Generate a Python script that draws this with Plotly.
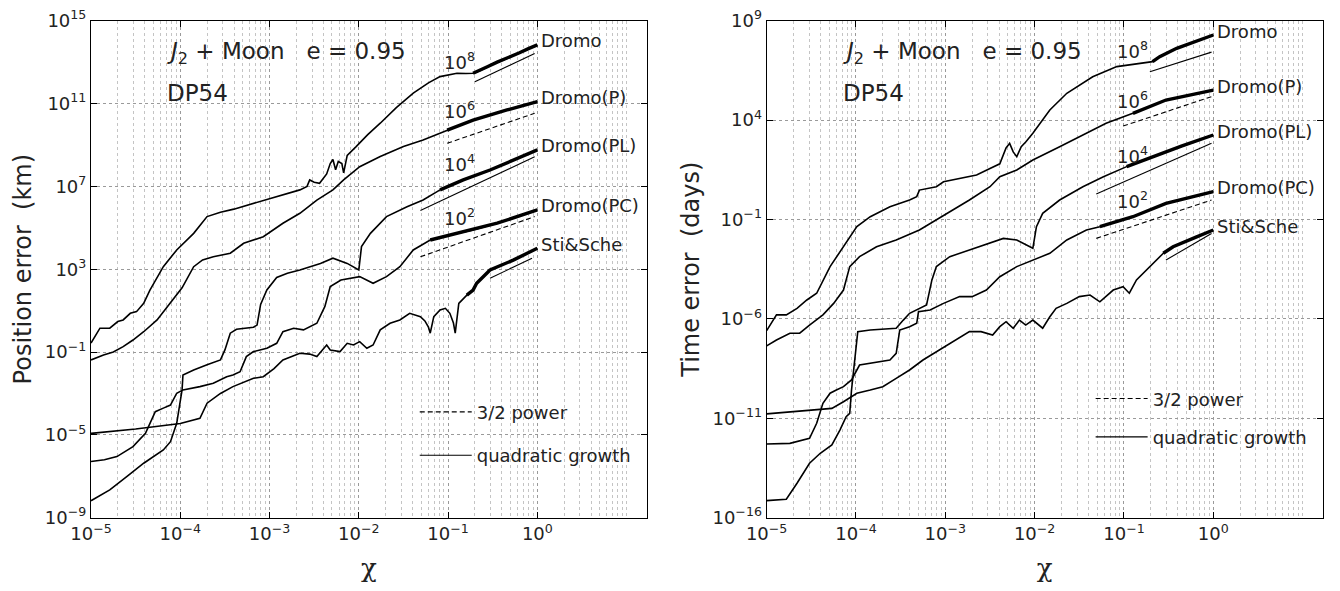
import numpy as np
import plotly.graph_objects as go

# ---------------- data: log10(chi), log10(error) ----------------
# Left panel: position error (km)
pos_dromo_lx = [-5, -4.9, -4.79, -4.70, -4.64, -4.56, -4.49, -4.41, -4.34, -4.19, -4.04, -3.85, -3.70, -3.55, -3.40,
                -3.18, -2.92, -2.66, -2.58, -2.55, -2.50, -2.44, -2.36, -2.32, -2.29, -2.26, -2.23, -2.19, -2.17, -2.13,
                -2.03, -1.90, -1.76, -1.58, -1.39, -1.22, -1.09, -0.98, -0.90, -0.80, -0.72, -0.64, -0.56, -0.45, -0.34,
                -0.20, -0.10, 0]
pos_dromo_ly = [-0.57, 0.15, 0.15, 0.47, 0.55, 0.87, 0.95, 1.35, 1.99, 3.12, 3.93, 4.73, 5.54, 5.75, 5.90,
                6.18, 6.50, 6.83, 7.00, 7.31, 7.20, 7.15, 7.60, 8.10, 8.30, 7.80, 8.20, 8.10, 7.65, 8.50,
                8.92, 9.50, 10.05, 10.80, 11.50, 12.00, 12.30, 12.40, 12.46, 12.45, 12.46, 12.60, 12.78, 13.00, 13.18,
                13.45, 13.65, 13.83]

pos_p_lx = [-5, -4.86, -4.75, -4.64, -4.53, -4.41, -4.26, -4.11, -3.98, -3.85, -3.75, -3.63, -3.44, -3.29, -3.07,
            -2.85, -2.66, -2.47, -2.29, -2.17, -1.99, -1.76, -1.50, -1.28, -1.01, -0.72, -0.34, 0]
pos_p_ly = [-1.38, -1.14, -1.00, -0.74, -0.42, -0.02, 0.55, 1.35, 2.10, 3.12, 3.45, 3.60, 3.77, 4.25, 4.57,
            5.22, 5.70, 6.34, 6.83, 7.31, 7.95, 8.44, 8.92, 9.24, 9.72, 10.20, 10.69, 11.09]

pos_pl_lx = [-5, -4.79, -4.60, -4.41, -4.19, -4.11, -4.04, -3.98, -3.97, -3.85, -3.70, -3.55, -3.50, -3.44, -3.37,
             -3.18, -3.14, -3.10, -3.03, -2.92, -2.80, -2.66, -2.43, -2.29, -2.13, -2.00, -1.97, -1.87, -1.69, -1.46,
             -1.28, -1.09, -0.83, -0.53, -0.25, 0]
pos_pl_ly = [-8.18, -7.66, -7.02, -6.37, -5.73, -5.33, -4.44, -2.83, -2.11, -1.87, -1.62, -1.38, -0.90, -0.09, 0.10,
             0.20, 0.30, 1.30, 2.00, 2.60, 2.80, 2.96, 3.28, 3.53, 3.28, 2.96, 4.09, 4.73, 5.54, 6.02,
             6.34, 6.83, 7.31, 7.79, 8.30, 8.76]

pos_pc_lx = [-5, -4.85, -4.71, -4.53, -4.39, -4.28, -4.19, -4.11, -4.04, -3.97, -3.78, -3.63, -3.48, -3.41, -3.33,
             -3.26, -3.18, -3.03, -2.92, -2.85, -2.73, -2.62, -2.47, -2.38, -2.32, -2.20, -1.99, -1.84, -1.69, -1.54,
             -1.39, -1.20, -0.90, -0.72, -0.45, 0]
pos_pc_ly = [-6.29, -6.20, -6.05, -5.57, -4.93, -3.88, -3.71, -3.56, -2.99, -2.83, -2.67, -2.51, -2.19, -2.11, -1.95,
             -1.22, -0.98, -0.82, -0.58, -0.02, 0.15, 0.07, 0.39, 1.20, 2.16, 2.48, 2.64, 2.32, 2.64, 3.12,
             3.93, 4.41, 4.73, 4.89, 5.22, 5.86]

pos_ss_lx = [-5, -4.5, -4.0, -3.78, -3.70, -3.55, -3.41, -3.18, -3.07, -2.95, -2.85, -2.66, -2.55, -2.47, -2.36,
             -2.32, -2.21, -2.13, -2.06, -1.99, -1.91, -1.84, -1.76, -1.65, -1.54, -1.43, -1.31, -1.26, -1.22, -1.20,
             -1.16, -1.09, -1.03, -0.98, -0.94, -0.92, -0.88, -0.79, -0.72, -0.68, -0.53, -0.27, 0]
pos_ss_ly = [-4.93, -4.72, -4.45, -4.20, -3.47, -3.00, -2.67, -2.27, -2.19, -1.80, -1.38, -1.06, -1.10, -1.22, -0.66,
             -0.90, -0.98, -0.58, -0.66, -0.50, -0.82, -0.66, 0.07, 0.39, 0.55, 0.87, 0.71, 0.50, 0.20, -0.09,
             0.71, 1.03, 1.11, 0.87, 0.40, -0.09, 1.35, 1.75, 1.99, 2.32, 2.96, 3.44, 4.01]

# reference slopes (left panel): start/end in log10
pos_guide_dromo = ([-0.70, -0.03], [12.05, 13.42])   # quadratic
pos_guide_p = ([-1.01, -0.03], [9.08, 10.53])        # 3/2 power
pos_guide_pl = ([-1.31, -0.03], [5.83, 8.43])        # quadratic
pos_guide_pc = ([-1.31, -0.03], [3.60, 5.54])        # 3/2 power
pos_guide_ss = ([-0.53, -0.06], [2.56, 3.53])        # quadratic

# Right panel: time error (days)
tim_dromo_lx = [-5, -4.89, -4.78, -4.66, -4.55, -4.44, -4.29, -4.14, -3.99, -3.84, -3.62, -3.40, -3.32, -3.29, -3.10,
                -3.02, -2.84, -2.65, -2.50, -2.39, -2.32, -2.28, -2.24, -2.20, -2.15, -2.10, -2.02, -1.83, -1.64, -1.35,
                -1.08, -0.79, -0.68, -0.60, -0.41, -0.20, 0]
tim_dromo_ly = [-6.59, -5.80, -5.80, -5.47, -5.05, -4.71, -3.37, -2.37, -1.36, -0.86, -0.36, -0.02, 0.15, 0.48, 0.65,
                0.90, 1.07, 1.24, 1.57, 1.80, 2.60, 2.83, 2.40, 2.16, 2.66, 2.90, 3.34, 4.51, 5.35, 6.18,
                6.69, 6.86, 6.94, 7.19, 7.61, 7.95, 8.28]

tim_p_lx = [-5, -4.89, -4.74, -4.63, -4.52, -4.37, -4.25, -4.14, -4.07, -3.96, -3.77, -3.55, -3.29, -3.10, -2.91,
            -2.73, -2.50, -2.39, -2.20, -2.02, -1.72, -1.42, -1.20, -0.90, -0.53, 0]
tim_p_ly = [-7.36, -7.06, -6.72, -6.72, -6.31, -5.80, -5.22, -4.55, -3.37, -2.87, -2.37, -2.03, -1.53, -1.03, -0.52,
            -0.02, 0.65, 1.15, 1.49, 1.99, 2.66, 3.34, 3.84, 4.34, 5.01, 5.51]

tim_pl_lx = [-5, -4.78, -4.66, -4.52, -4.40, -4.27, -4.18, -4.11, -4.07, -4.05, -4.01, -3.98, -3.84, -3.55, -3.47,
             -3.40, -3.21, -3.17, -3.15, -3.10, -2.95, -2.73, -2.50, -2.35, -2.20, -2.02, -1.98, -1.91, -1.72, -1.46,
             -1.23, -0.97, -0.68, -0.35, 0]
tim_pl_ly = [-15.14, -15.07, -14.27, -13.26, -12.76, -12.34, -11.59, -10.92, -10.75, -9.58, -7.90, -6.64, -6.56, -6.47,
             -6.06, -5.72, -5.30, -4.55, -4.04, -3.37, -2.87, -2.53, -2.20, -1.95, -2.03, -2.45, -1.36, -0.69, -0.02,
             0.65, 1.15, 1.66, 2.16, 2.70, 3.25]

tim_pc_lx = [-5, -4.74, -4.52, -4.44, -4.37, -4.29, -4.22, -4.14, -4.05, -4.01, -3.96, -3.62, -3.55, -3.51, -3.40,
             -3.32, -3.30, -3.17, -3.02, -2.84, -2.70, -2.54, -2.39, -2.20, -2.02, -1.83, -1.64, -1.42, -1.27, -0.90,
             -0.53, 0]
tim_pc_ly = [-12.29, -12.26, -12.01, -11.25, -10.25, -9.74, -9.58, -9.41, -9.07, -8.74, -8.32, -8.07, -7.73, -6.56,
             -6.39, -6.22, -5.64, -5.55, -5.22, -4.88, -4.88, -4.55, -3.88, -3.37, -3.04, -2.70, -2.03, -1.53, -1.36,
             -0.86, -0.19, 0.40]

tim_ss_lx = [-5, -4.59, -4.27, -4.14, -3.99, -3.84, -3.70, -3.55, -3.40, -3.25, -3.10, -2.91, -2.73, -2.60, -2.47,
             -2.39, -2.32, -2.24, -2.17, -2.10, -2.02, -1.91, -1.83, -1.76, -1.64, -1.50, -1.38, -1.27, -1.20, -1.12,
             -1.01, -0.94, -0.86, -0.71, -0.56, -0.45, -0.20, 0]
tim_ss_ly = [-10.78, -10.62, -10.50, -10.17, -9.74, -9.58, -9.41, -8.99, -8.57, -8.07, -7.65, -7.15, -6.64, -6.64,
             -6.81, -6.39, -6.14, -6.47, -6.06, -6.31, -6.06, -6.47, -5.89, -5.47, -5.22, -4.88, -4.80, -5.14, -4.88,
             -4.55, -4.38, -4.71, -4.04, -3.37, -2.70, -2.37, -1.90, -1.53]

tim_guide_dromo = ([-0.71, -0.02], [6.43, 7.42])
tim_guide_p = ([-1.01, -0.02], [3.70, 5.18])
tim_guide_pl = ([-1.31, -0.02], [0.28, 2.83])
tim_guide_pc = ([-1.31, -0.02], [-1.95, -0.02])
tim_guide_ss = ([-0.53, -0.02], [-3.04, -1.70])

series_names = ["Dromo", "Dromo(P)", "Dromo(PL)", "Dromo(PC)", "Sti&Sche"]
scale_labels = ["10<sup>8</sup>", "10<sup>6</sup>", "10<sup>4</sup>", "10<sup>2</sup>"]
pos_scale_pos = [(-0.87, 13.05), (-0.87, 10.69), (-0.87, 8.13), (-0.87, 5.54)]
tim_scale_pos = [(-0.90, 7.53), (-0.90, 5.01), (-0.90, 2.25), (-0.90, -0.02)]

x_tick_exp = [-5, -4, -3, -2, -1, 0]
pos_y_tick_exp = [-9, -5, -1, 3, 7, 11, 15]
tim_y_tick_exp = [-16, -11, -6, -1, 4, 9]

# ---------------- figure ----------------
FONT = "DejaVu Sans"
W, H = 1324, 575          # page body has an 8px margin inside the 1340x591 window
fig = go.Figure()


def sup(e):
    return "10<sup>" + str(e).replace("-", "\u2212") + "</sup>"


def add_curve(lx, ly, xa, ya, thick_from):
    lx = np.array(lx, dtype=float)
    ly = np.array(ly, dtype=float)
    x, y = 10 ** lx, 10 ** ly
    fig.add_trace(go.Scatter(x=x, y=y, mode="lines", line=dict(color="black", width=1.6),
                             xaxis=xa, yaxis=ya, showlegend=False, hoverinfo="skip"))
    m = lx >= thick_from
    fig.add_trace(go.Scatter(x=x[m], y=y[m], mode="lines", line=dict(color="black", width=3.4),
                             xaxis=xa, yaxis=ya, showlegend=False, hoverinfo="skip"))


def add_guide(g, xa, ya, dashed, name=None, legend=None, group=None):
    lx, ly = g
    fig.add_trace(go.Scatter(x=10 ** np.array(lx), y=10 ** np.array(ly), mode="lines",
                             line=dict(color="black", width=1.1, dash="5px,3px" if dashed else "solid"),
                             xaxis=xa, yaxis=ya, hoverinfo="skip",
                             showlegend=name is not None, name=name or "",
                             legend=legend or "legend", legendgroup=group))


panels = [
    dict(xa="x", ya="y", legend="legend",
         curves=[(pos_dromo_lx, pos_dromo_ly, -0.72), (pos_p_lx, pos_p_ly, -1.25), (pos_pl_lx, pos_pl_ly, -1.1),
                 (pos_pc_lx, pos_pc_ly, -1.2), (pos_ss_lx, pos_ss_ly, -0.8)],
         guides=[pos_guide_dromo, pos_guide_p, pos_guide_pl, pos_guide_pc, pos_guide_ss],
         scale_pos=pos_scale_pos),
    dict(xa="x2", ya="y2", legend="legend2",
         curves=[(tim_dromo_lx, tim_dromo_ly, -0.7), (tim_p_lx, tim_p_ly, -1.0), (tim_pl_lx, tim_pl_ly, -1.0),
                 (tim_pc_lx, tim_pc_ly, -1.3), (tim_ss_lx, tim_ss_ly, -0.56)],
         guides=[tim_guide_dromo, tim_guide_p, tim_guide_pl, tim_guide_pc, tim_guide_ss],
         scale_pos=tim_scale_pos),
]

dashed_flags = [False, True, False, True, False]
annotations = []
for p in panels:
    xa, ya = p["xa"], p["ya"]
    # legend entries first (dashed then solid)
    add_guide(p["guides"][1], xa, ya, True, "3/2 power", p["legend"], "a")
    add_guide(p["guides"][0], xa, ya, False, "quadratic growth", p["legend"], "b")
    for i in (2, 3, 4):
        add_guide(p["guides"][i], xa, ya, dashed_flags[i])
    for (lx, ly, th) in p["curves"]:
        add_curve(lx, ly, xa, ya, th)
    # series labels at curve ends
    for name, (lx, ly, th) in zip(series_names, p["curves"]):
        annotations.append(dict(x=lx[-1], y=ly[-1], xref=xa, yref=ya, text=name, showarrow=False,
                                xanchor="left", yanchor="middle", xshift=2, yshift=4,
                                font=dict(family=FONT, size=18, color="#222")))
    for lab, (sx, sy) in zip(scale_labels, p["scale_pos"]):
        annotations.append(dict(x=sx, y=sy, xref=xa, yref=ya, text=lab, showarrow=False,
                                xanchor="center", yanchor="middle",
                                font=dict(family=FONT, size=18, color="#222")))
    annotations.append(dict(x=0.133, y=0.935, xref=xa + " domain", yref=ya + " domain",
                            text="<i>J</i><sub>2</sub> + Moon\u00a0\u00a0\u00a0e = 0.95", showarrow=False,
                            xanchor="left", yanchor="middle", font=dict(family=FONT, size=23, color="#222")))
    annotations.append(dict(x=0.133, y=0.854, xref=xa + " domain", yref=ya + " domain",
                            text="DP54", showarrow=False,
                            xanchor="left", yanchor="middle", font=dict(family=FONT, size=23, color="#222")))


def xaxis(domain, anchor):
    return dict(type="log", range=[-5, 1.225], domain=domain, anchor=anchor, automargin=False,
                tickvals=[10.0 ** e for e in x_tick_exp], ticktext=[sup(e) for e in x_tick_exp],
                ticks="inside", ticklen=6, tickwidth=1, tickcolor="black", ticklabeloverflow="allow",
                showline=True, linecolor="black", linewidth=1.2, mirror="allticks",
                showgrid=True, gridcolor="#9a9a9a", griddash="dot", gridwidth=1, zeroline=False,
                minor=dict(dtick="D1", showgrid=True, gridcolor="#c4c4c4", griddash="dot", gridwidth=1, ticks=""),
                tickfont=dict(family=FONT, size=18, color="#222"),
                title=dict(text="\u03c7", font=dict(family="DejaVu Serif", size=26, color="#222"), standoff=17))


def yaxis(domain, anchor, rng, exps, title):
    return dict(type="log", range=rng, domain=domain, anchor=anchor, automargin=False,
                tickvals=[10.0 ** e for e in exps], ticktext=[sup(e) for e in exps],
                ticks="inside", ticklen=6, tickwidth=1, tickcolor="black", ticklabeloverflow="allow",
                showline=True, linecolor="black", linewidth=1.2, mirror="allticks",
                showgrid=True, gridcolor="#9a9a9a", griddash="dot", gridwidth=1, zeroline=False,
                tickfont=dict(family=FONT, size=18, color="#222"),
                title=dict(text=title, font=dict(family=FONT, size=24, color="#222"), standoff=6))


ydom = [0.1136, 0.9779]
legend_common = dict(bgcolor="rgba(0,0,0,0)", borderwidth=0, font=dict(family=FONT, size=18, color="#222"),
                     itemwidth=52, traceorder="grouped", xanchor="left", yanchor="top")

fig.update_layout(
    width=W, height=H, margin=dict(l=0, r=0, t=0, b=0, autoexpand=False),
    paper_bgcolor="white", plot_bgcolor="white",
    xaxis=xaxis([0.0627, 0.4824], "y"),
    yaxis=yaxis(ydom, "x", [-9, 15.0001], pos_y_tick_exp, "Position error\u00a0\u00a0(km)"),
    xaxis2=xaxis([0.5730, 0.9930], "y2"),
    yaxis2=yaxis(ydom, "x2", [-16, 9.0001], tim_y_tick_exp, "Time error\u00a0\u00a0(days)"),
    legend=dict(x=0.3072, y=0.3292, tracegroupgap=17, **legend_common),
    legend2=dict(x=0.8177, y=0.3525, tracegroupgap=12, **legend_common),
    annotations=annotations,
    showlegend=True,
)

fig.write_html("out.html")
